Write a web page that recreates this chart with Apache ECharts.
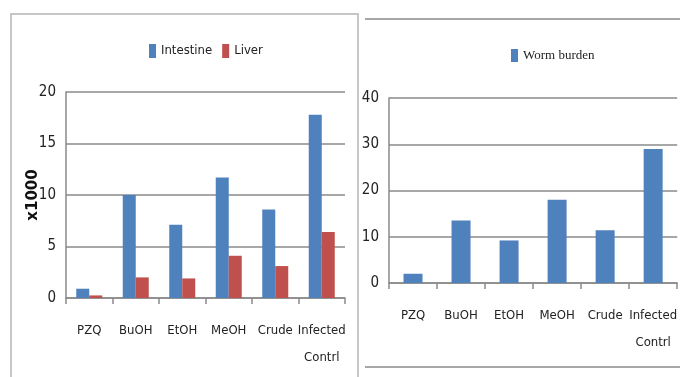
<!DOCTYPE html>
<html>
<head>
<meta charset="utf-8">
<script src="https://cdn.jsdelivr.net/npm/echarts@6/dist/echarts.min.js"></script>
<style>
  html, body { margin: 0; padding: 0; background: #fff; }
  #main { width: 680px; height: 377px; }
</style>
</head>
<body>
<div id="main"></div>
<script>
// categories shared by both panels
const groups = ['PZQ', 'BuOH', 'EtOH', 'MeOH', 'Crude', 'Infected\nContrl']
// left panel (x1000)
const intestine = [0.9, 10, 7.1, 11.7, 8.6, 17.8]
const liver = [0.25, 2.0, 1.9, 4.1, 3.1, 6.4]
// right panel
const wormBurden = [2, 13.5, 9.2, 18, 11.4, 29]

const axisFont = '"Liberation Sans Narrow", "DejaVu Sans Condensed", sans-serif'
const gridGray = '#8a8a8a'

const chart = echarts.init(document.getElementById('main'))

function catAxis(gridIndex) {
  return {
    type: 'category',
    gridIndex: gridIndex,
    data: groups,
    axisLine: { lineStyle: { color: gridGray, width: 1.5 } },
    axisTick: { show: true, length: 6, lineStyle: { color: gridGray, width: 1.5 } },
    axisLabel: { interval: 0, color: '#222', fontFamily: axisFont, fontSize: 13, lineHeight: 27, margin: 19 }
  }
}

function valAxis(gridIndex, max, interval) {
  return {
    type: 'value',
    gridIndex: gridIndex,
    min: 0,
    max: max,
    interval: interval,
    axisLine: { show: true, lineStyle: { color: gridGray, width: 1.5 } },
    axisTick: { show: false },
    splitLine: { lineStyle: { color: gridGray, width: 1.5 } },
    axisLabel: { color: '#222', fontFamily: axisFont, fontSize: 15, margin: 10 }
  }
}

const yLeft = valAxis(0, 20, 5)
yLeft.name = 'x1000'
yLeft.nameLocation = 'middle'
yLeft.nameRotate = 90
yLeft.nameGap = 25
yLeft.nameMoveOverlap = false
yLeft.nameTextStyle = { fontFamily: '"DejaVu Sans", sans-serif', fontWeight: 'bold', fontSize: 15, color: '#111' }

chart.setOption({
  animation: false,
  backgroundColor: '#fff',
  legend: [
    {
      data: ['Intestine', 'Liver'],
      left: 144, top: 39,
      itemWidth: 7, itemHeight: 14, itemGap: 10,
      icon: 'rect',
      textStyle: { fontFamily: axisFont, fontSize: 13, color: '#222' }
    },
    {
      data: ['Worm burden'],
      left: 506, top: 44,
      itemWidth: 7, itemHeight: 13, itemGap: 4,
      icon: 'rect',
      textStyle: { fontFamily: '"Liberation Serif", serif', fontSize: 13, color: '#222' }
    }
  ],
  grid: [
    { left: 66, top: 92, right: 335, bottom: 79 },
    { left: 389, top: 98, right: 2, bottom: 94 }
  ],
  xAxis: [catAxis(0), catAxis(1)],
  yAxis: [yLeft, valAxis(1, 40, 10)],
  series: [
    { name: 'Intestine', type: 'bar', xAxisIndex: 0, yAxisIndex: 0, data: intestine,
      itemStyle: { color: '#4F81BD' }, barWidth: 13, barGap: '0%' },
    { name: 'Liver', type: 'bar', xAxisIndex: 0, yAxisIndex: 0, data: liver,
      itemStyle: { color: '#C0504D' }, barWidth: 13, barGap: '0%' },
    { name: 'Worm burden', type: 'bar', xAxisIndex: 1, yAxisIndex: 1, data: wormBurden,
      itemStyle: { color: '#4F81BD' }, barWidth: 19 }
  ],
  graphic: [
    // panel frames
    { type: 'polyline', shape: { points: [[11, 377], [11, 14], [358, 14], [358, 377]] },
      style: { stroke: '#b5b5b5', lineWidth: 1.5, fill: null } },
    { type: 'line', shape: { x1: 365, y1: 19, x2: 680, y2: 19 },
      style: { stroke: '#8a8a8a', lineWidth: 1.5 } },
    { type: 'line', shape: { x1: 365, y1: 367, x2: 680, y2: 367 },
      style: { stroke: '#8a8a8a', lineWidth: 1.5 } }
  ]
})
</script>
</body>
</html>
